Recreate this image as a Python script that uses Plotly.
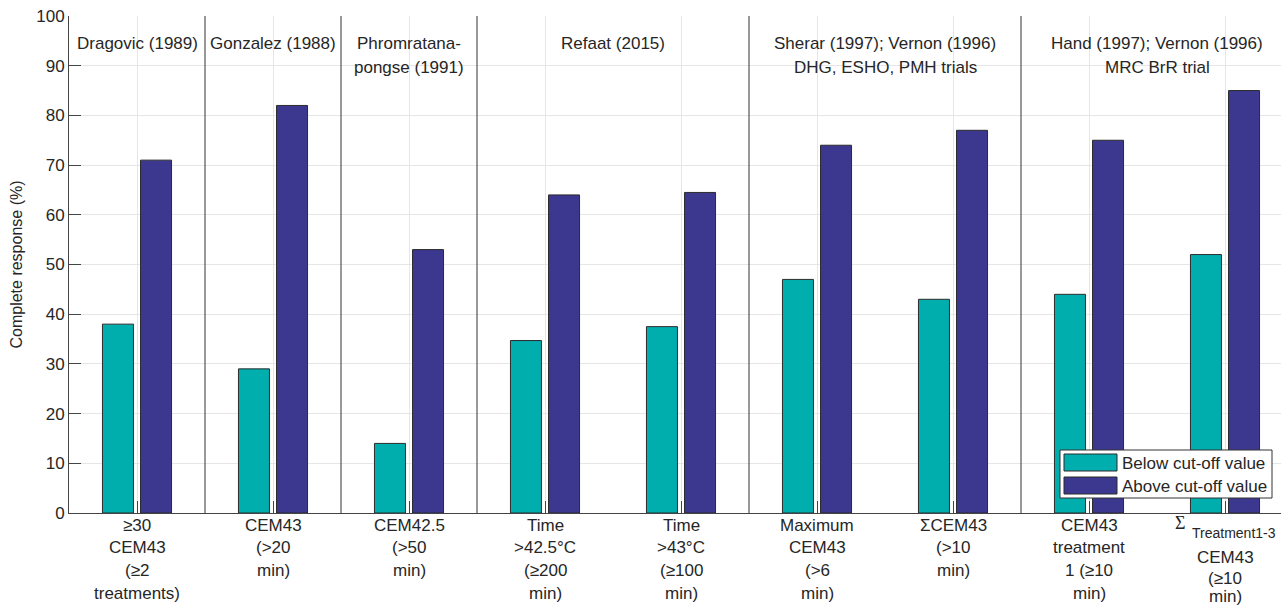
import plotly.graph_objects as go

# Complete response (%) per hyperthermia dose parameter
below_cutoff = [38, 29, 14, 34.7, 37.5, 47, 43, 44, 52]
above_cutoff = [71, 82, 53, 64, 64.5, 74, 77, 75, 85]

# Category labels, one list of lines per category
category_lines = [
    ["≥30", "CEM43", "(≥2", "treatments)"],
    ["CEM43", "(>20", "min)"],
    ["CEM42.5", "(>50", "min)"],
    ["Time", ">42.5°C", "(≥200", "min)"],
    ["Time", ">43°C", "(≥100", "min)"],
    ["Maximum", "CEM43", "(>6", "min)"],
    ["ΣCEM43", "(>10", "min)"],
    ["CEM43", "treatment", "1 (≥10", "min)"],
    [None, "CEM43", "(≥10", "min)"],  # first line is Σ with a subscript, drawn separately
]
sum_symbol = "Σ"
sum_subscript = "Treatment1-3"

# Study groups: (first category, last category, header lines)
study_groups = [
    (1, 1, ["Dragovic (1989)"]),
    (2, 2, ["Gonzalez (1988)"]),
    (3, 3, ["Phromratana-", "pongse (1991)"]),
    (4, 5, ["Refaat (2015)"]),
    (6, 7, ["Sherar (1997); Vernon (1996)", "DHG, ESHO, PMH trials"]),
    (8, 9, ["Hand (1997); Vernon (1996)", "MRC BrR trial"]),
]

series_names = ["Below cut-off value", "Above cut-off value"]

TEAL = "#00AEAE"
NAVY = "#3C388F"
EDGE = "#2b2b2b"
TXT = "#262626"
AXIS = "#444444"
GRID = "#e6e6e6"
FONT = "Liberation Sans, Arial, Helvetica, sans-serif"

W, H = 1281, 606
ML, MT, MB = 69, 16, 93
plot_w = W - ML
plot_h = H - MT - MB
PX_PER_CAT = 136


def py_to_paper(py):
    return (H - MB - py) / plot_h


def px_to_paper(px):
    return (px - ML) / plot_w


x = list(range(1, len(below_cutoff) + 1))

fig = go.Figure()
fig.add_trace(go.Bar(x=x, y=below_cutoff, name=series_names[0],
                     marker=dict(color=TEAL, line=dict(color=EDGE, width=1)),
                     showlegend=False))
fig.add_trace(go.Bar(x=x, y=above_cutoff, name=series_names[1],
                     marker=dict(color=NAVY, line=dict(color=EDGE, width=1)),
                     showlegend=False))

shapes = []
annotations = []

# Vertical separators between studies
for first, last, _ in study_groups[1:]:
    shapes.append(dict(type="line", xref="x", yref="y", x0=first - 0.5, x1=first - 0.5,
                       y0=0, y1=100, line=dict(color="#333333", width=1), layer="above"))

# Study headers
for first, last, lines in study_groups:
    cx = (first + last) / 2
    for i, line in enumerate(lines):
        annotations.append(dict(x=cx, xref="x", y=py_to_paper(43 + 24 * i), yref="paper",
                                text=line, showarrow=False, xanchor="center", yanchor="middle",
                                font=dict(family=FONT, size=17, color=TXT)))

# Category labels below the axis, line by line
for ci, lines in enumerate(category_lines):
    for li, line in enumerate(lines):
        if line is None:
            continue
        if lines[0] is None:
            py = [525, 557, 578, 596][li]
        else:
            py = 525 + 22.7 * li
        annotations.append(dict(x=ci + 1, xref="x", y=py_to_paper(py), yref="paper",
                                text=line, showarrow=False, xanchor="center", yanchor="middle",
                                font=dict(family=FONT, size=17, color=TXT)))

# Σ with subscript for the last category
last_cat = len(category_lines)
annotations.append(dict(x=last_cat, xref="x", xshift=-45, y=py_to_paper(523), yref="paper",
                        text=sum_symbol, showarrow=False, xanchor="center", yanchor="middle",
                        font=dict(family="Liberation Serif, Times New Roman, serif", size=18, color=TXT)))
annotations.append(dict(x=last_cat, xref="x", xshift=-35, y=py_to_paper(533), yref="paper",
                        text=sum_subscript, showarrow=False, xanchor="left", yanchor="middle",
                        font=dict(family=FONT, size=14, color=TXT)))

# Legend box
shapes.append(dict(type="rect", xref="paper", yref="paper",
                   x0=px_to_paper(1060), x1=px_to_paper(1272),
                   y0=py_to_paper(498), y1=py_to_paper(450),
                   fillcolor="white", line=dict(color="#333333", width=1), layer="above"))
for row, (name, color) in enumerate(zip(series_names, [TEAL, NAVY])):
    top = 454 + 23 * row
    shapes.append(dict(type="rect", xref="paper", yref="paper",
                       x0=px_to_paper(1064), x1=px_to_paper(1117),
                       y0=py_to_paper(top + 17), y1=py_to_paper(top),
                       fillcolor=color, line=dict(color=EDGE, width=1), layer="above"))
    annotations.append(dict(x=px_to_paper(1120), xref="paper", y=py_to_paper(top + 9), yref="paper",
                            text=name, showarrow=False, xanchor="left", yanchor="middle",
                            font=dict(family=FONT, size=17, color=TXT)))

fig.update_layout(
    width=W, height=H,
    margin=dict(l=ML, r=0, t=MT, b=MB),
    paper_bgcolor="white", plot_bgcolor="white",
    barmode="group", bargap=0.44, bargroupgap=0.186,
    shapes=shapes, annotations=annotations,
    font=dict(family=FONT, color=TXT),
    xaxis=dict(range=[0.5, 0.5 + plot_w / PX_PER_CAT], tickvals=x, showticklabels=False,
               ticks="inside", ticklen=12, tickcolor=AXIS,
               showgrid=True, gridcolor=GRID, gridwidth=1,
               showline=True, linecolor=AXIS, linewidth=1, zeroline=False),
    yaxis=dict(range=[0, 100], dtick=10, ticks="inside", ticklen=12, tickcolor=AXIS,
               showgrid=True, gridcolor=GRID, gridwidth=1,
               showline=True, linecolor=AXIS, linewidth=1, zeroline=False,
               tickfont=dict(family=FONT, size=17, color=TXT),
               title=dict(text="Complete response (%)", standoff=9,
                          font=dict(family=FONT, size=16, color=TXT))),
)

fig.write_html("out.html")
